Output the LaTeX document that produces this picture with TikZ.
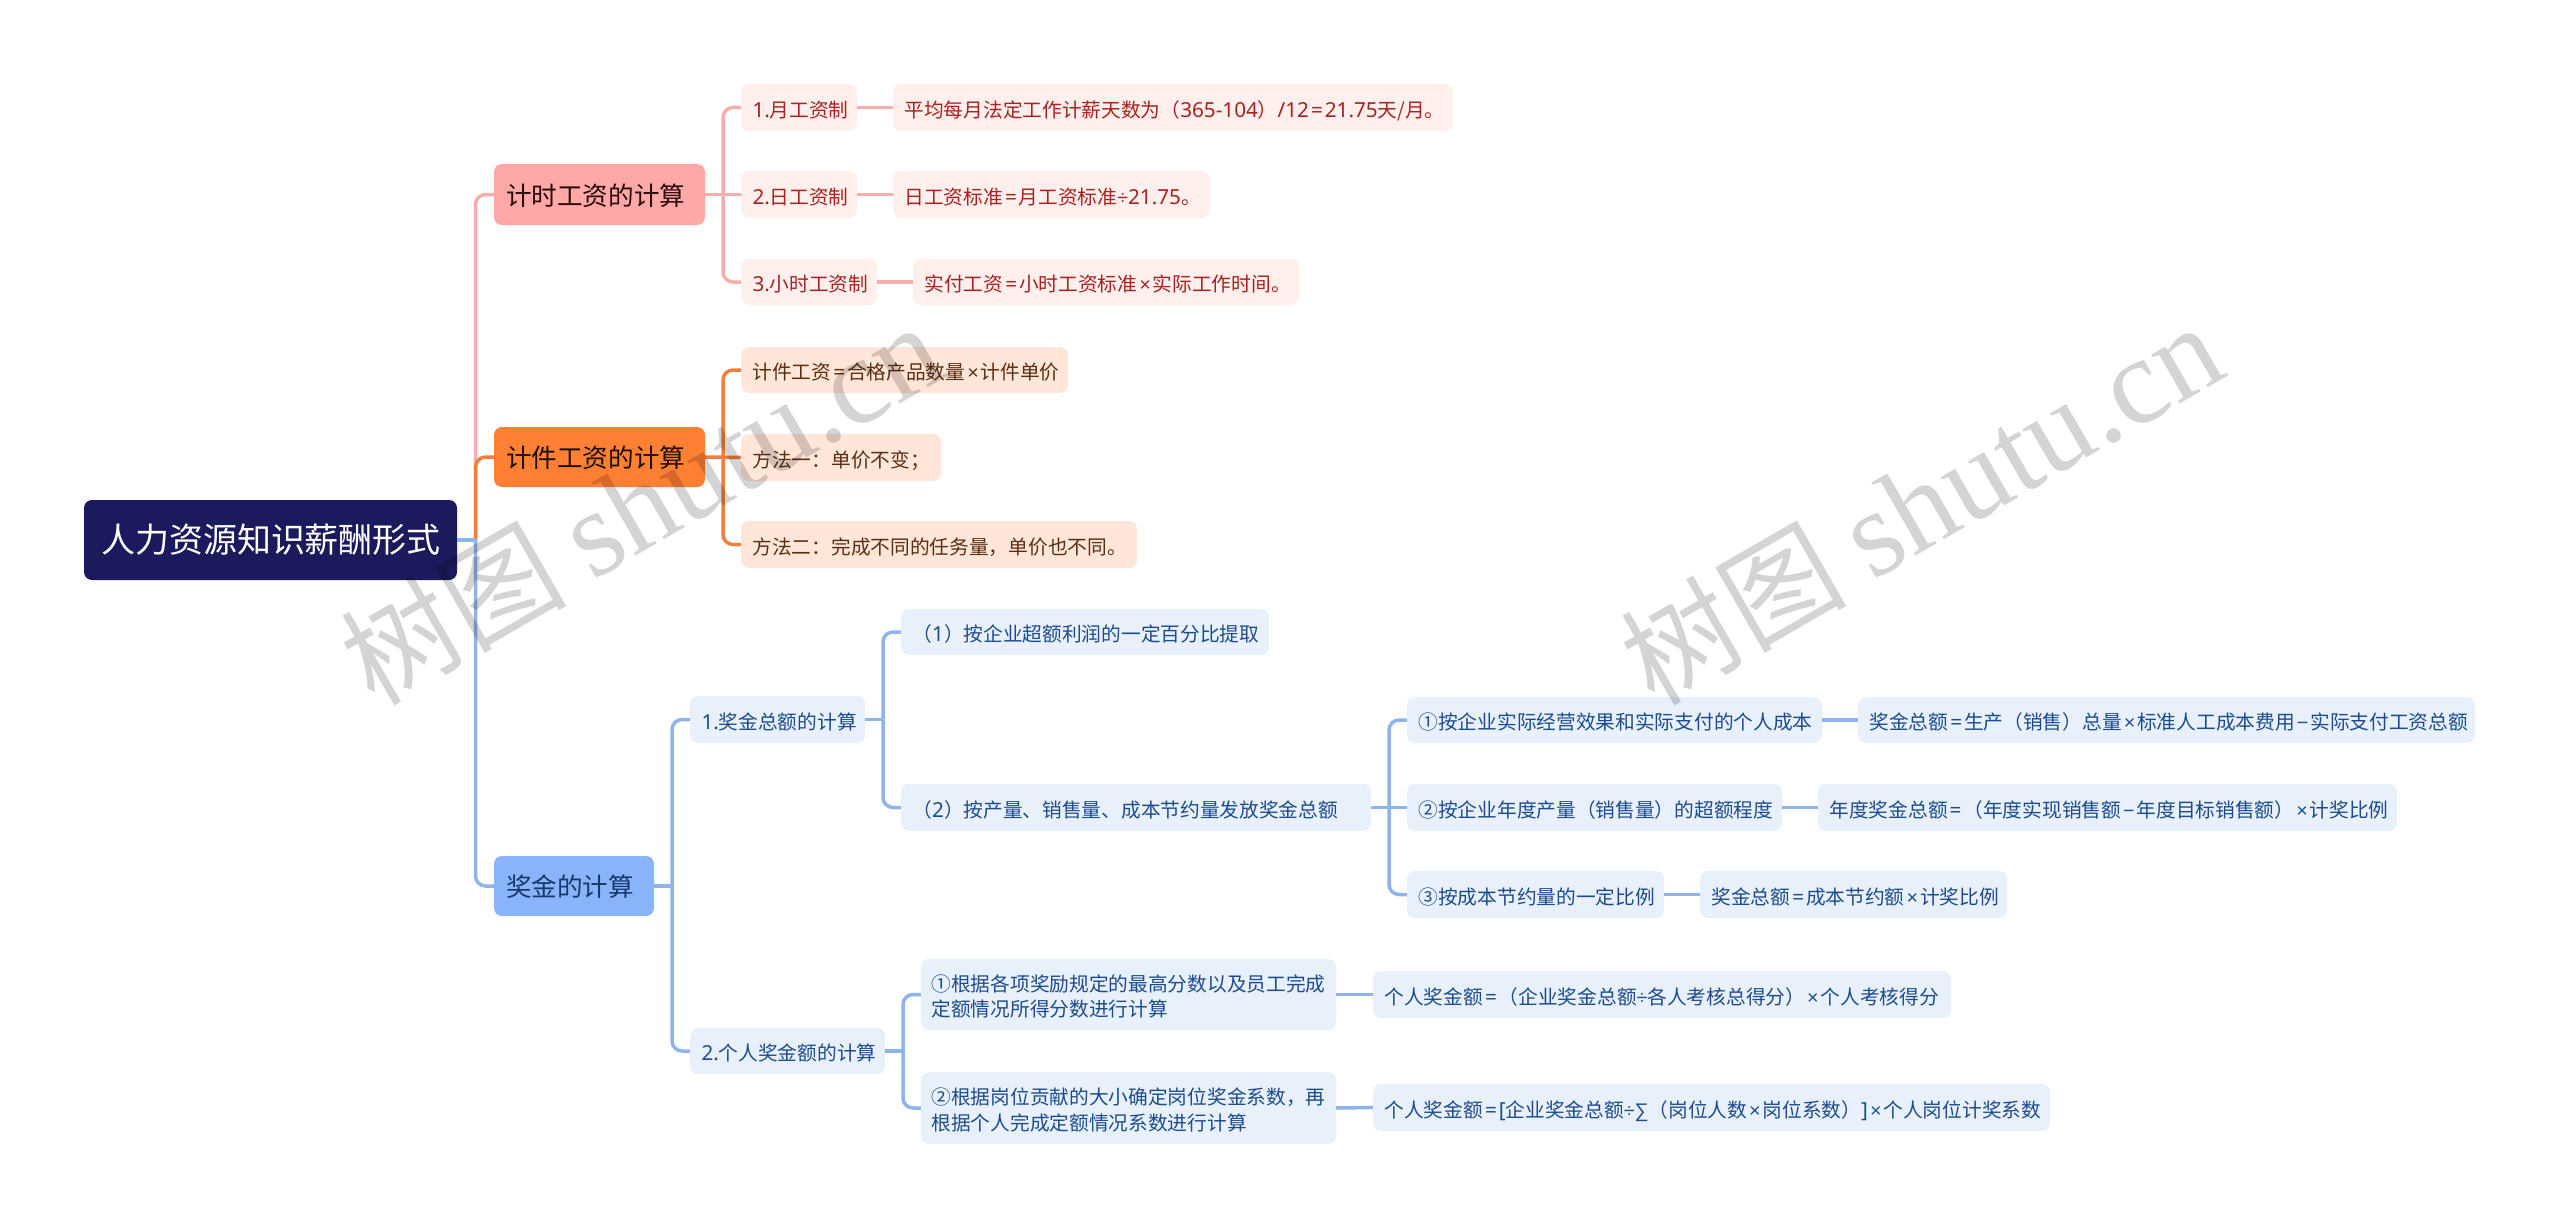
\documentclass[tikz,border=0pt]{standalone}
\usepackage{fontspec}
\setmainfont{Noto Sans CJK SC}
\newfontfamily\wmlatin{Liberation Serif}
\newfontfamily\symf{Liberation Sans}
\newfontfamily\latf[Scale=1.05]{Noto Sans}
\newcommand{\Lt}[1]{{\latf #1}}
\newcommand{\Sy}[1]{{\symf #1}}
\newcommand{\Eq}{\hspace{2pt}{\latf =}\hspace{2pt}}
\newcommand{\Mu}{\hspace{2pt}{\symf ×}\hspace{2pt}}
\newcommand{\Mi}{\hspace{2pt}{\symf −}\hspace{2pt}}
\definecolor{rootc}{HTML}{1B1A5C}
\definecolor{pinkn}{HTML}{FFA8A8}
\definecolor{pinkl}{HTML}{F5AEAC}
\definecolor{pinkf}{HTML}{FFF0EE}
\definecolor{pinkt}{HTML}{A8201F}
\definecolor{orann}{HTML}{FF7F33}
\definecolor{oranl}{HTML}{EE7F3E}
\definecolor{oranf}{HTML}{FFE6D9}
\definecolor{orant}{HTML}{5A2E12}
\definecolor{bluen}{HTML}{8AB4FA}
\definecolor{bluel}{HTML}{8FB4EC}
\definecolor{bluef}{HTML}{E8F0FC}
\definecolor{bluet}{HTML}{1D4C8E}
\tikzset{
  base/.style={rectangle,rounded corners=8pt,inner sep=0pt},
  rootbox/.style={base,fill=rootc,text=white,font=\fontsize{34}{40}\selectfont},
  lone/.style={base,font=\fontsize{25.6}{30}\selectfont},
  ltwo/.style={base,font=\fontsize{19.7}{25.5}\selectfont},
  pinkone/.style={lone,fill=pinkn,text=black!75!pinkt},
  oranone/.style={lone,fill=orann,text=black!70!orant},
  blueone/.style={lone,fill=bluen,text=bluet!75!black},
  pinktwo/.style={ltwo,fill=pinkf,text=pinkt},
  orantwo/.style={ltwo,fill=oranf,text=orant},
  bluetwo/.style={ltwo,fill=bluef,text=bluet},
  link/.style={line width=#1,rounded corners=10pt},
  pinkm/.style={link=3.5pt,draw=pinkl},
  oranm/.style={link=3.5pt,draw=oranl},
  bluem/.style={link=3.5pt,draw=bluel},
  watermark/.style={rotate=30,text=black,text opacity=0.17,inner sep=0pt},
}
\def\pad{11}\def\drop{2.5}
\newcommand{\bx}[7]{%
  \pgfmathsetlengthmacro{\bw}{(#5-#3-\pad)*1pt}%
  \pgfmathsetlengthmacro{\bd}{(\drop)*1pt}%
  \node[#2,minimum width={(#5-#3)*1pt},minimum height={(#6-#4)*1pt}] (#1) at ({(#3+#5)/2},{(#4+#6)/2})
  {\hspace*{\pad pt}\makebox[\bw][l]{\raisebox{\dimexpr-.38em-\bd\relax}[0pt][0pt]{#7}}};}
\newcommand{\twolines}[2]{\parbox[t]{440pt}{#1\\#2}}
\begin{document}
\begin{tikzpicture}[x=1pt,y=-1pt]
\useasboundingbox (0,0) rectangle (2560,1228);
\fill[white] (0,0) rectangle (2560,1228);
% nodes
\def\pad{17}\def\drop{0}
\bx{root}{rootbox}{84}{500}{457}{580}{人力资源知识薪酬形式}
\def\pad{12}\def\drop{1}
\bx{a}{pinkone}{494}{164}{705}{225}{计时工资的计算}
\bx{b}{oranone}{494}{427}{705}{487}{计件工资的计算}
\bx{c}{blueone}{494}{856}{654}{916}{奖金的计算}
\def\pad{11.5}\def\drop{2.5}
\bx{a1}{pinktwo}{741}{84}{857}{131}{\Lt{1.}月工资制}
\bx{a2}{pinktwo}{741}{171}{857}{218}{\Lt{2.}日工资制}
\bx{a3}{pinktwo}{741}{259}{877}{305}{\Lt{3.}小时工资制}
\bx{a1x}{pinktwo}{893}{84}{1453}{131}{平均每月法定工作计薪天数为（\Lt{365-104}）\Lt{/12}\Eq\Lt{21.75}天/月。}
\bx{a2x}{pinktwo}{893}{171}{1210}{218}{日工资标准\Eq 月工资标准\Sy{÷}\Lt{21.75}。}
\bx{a3x}{pinktwo}{913}{259}{1299}{305}{实付工资\Eq 小时工资标准\Mu 实际工作时间。}
\bx{b1}{orantwo}{741}{347}{1068}{393}{计件工资\Eq 合格产品数量\Mu 计件单价}
\bx{b2}{orantwo}{741}{434}{941}{481}{方法一：单价不变；}
\bx{b3}{orantwo}{741}{521}{1137}{568}{方法二：完成不同的任务量，单价也不同。}
\bx{c1}{bluetwo}{690}{696}{865}{743}{\Lt{1.}奖金总额的计算}
\bx{c2}{bluetwo}{690}{1028}{885}{1074}{\Lt{2.}个人奖金额的计算}
\bx{c11}{bluetwo}{901}{609}{1269}{655}{（\Lt{1}）按企业超额利润的一定百分比提取}
\bx{c12}{bluetwo}{901}{784}{1371}{831}{（\Lt{2}）按产量、销售量、成本节约量发放奖金总额}
\bx{d1}{bluetwo}{1407}{697}{1822}{743}{①按企业实际经营效果和实际支付的个人成本}
\bx{d2}{bluetwo}{1407}{784}{1782}{831}{②按企业年度产量（销售量）的超额程度}
\bx{d3}{bluetwo}{1407}{871}{1664}{918}{③按成本节约量的一定比例}
\bx{e1}{bluetwo}{1858}{697}{2475}{743}{奖金总额\Eq 生产（销售）总量\Mu 标准人工成本费用\Mi 实际支付工资总额}
\bx{e2}{bluetwo}{1818}{784}{2397}{831}{年度奖金总额\Eq（年度实现销售额\Mi 年度目标销售额）\Mu 计奖比例}
\bx{e3}{bluetwo}{1700}{871}{2007}{918}{奖金总额\Eq 成本节约额\Mu 计奖比例}
\bx{g1}{bluetwo}{1373}{971}{1951}{1018}{个人奖金额\Eq（企业奖金总额\Sy{÷}各人考核总得分）\Mu 个人考核得分}
\bx{g2}{bluetwo}{1373}{1084}{2050}{1131}{个人奖金额\Eq\Lt{[}企业奖金总额\Sy{÷∑}（岗位人数\Mu 岗位系数）\Lt{]}\Mu 个人岗位计奖系数}
\def\pad{10.5}\def\drop{-10.5}
\bx{f1}{bluetwo}{921}{959}{1336}{1030}{\twolines{①根据各项奖励规定的最高分数以及员工完成}{定额情况所得分数进行计算}}
\bx{f2}{bluetwo}{921}{1072}{1336}{1144}{\twolines{②根据岗位贡献的大小确定岗位奖金系数，再}{根据个人完成定额情况系数进行计算}}
% bends
\coordinate (tr) at (475.5,0);
\coordinate (va) at (723,0);
\coordinate (vc) at (672,0);
\coordinate (vc1) at (883,0);
\coordinate (vc2) at (903,0);
\coordinate (vd) at (1389,0);
% connectors
\draw[pinkm] (root.east -| tr) |- (a.west);
\draw[oranm] (root.east -| tr) |- (b.west);
\draw[bluem] (root.east -| tr) |- (c.west);
\draw[bluem] (root.east) -- (root.east -| tr);
\draw[pinkm] (a.east -| va) |- (a1.west);
\draw[pinkm] (a.east) -- (a2.west);
\draw[pinkm] (a.east -| va) |- (a3.west);
\draw[pinkm] (a1.east) -- (a1x.west);
\draw[pinkm] (a2.east) -- (a2x.west);
\draw[pinkm] (a3.east) -- (a3x.west);
\draw[oranm] (b.east -| va) |- (b1.west);
\draw[oranm] (b.east) -- (b2.west);
\draw[oranm] (b.east -| va) |- (b3.west);
\draw[bluem] (c.east) -- (c.east -| vc);
\draw[bluem] (c.east -| vc) |- (c1.west);
\draw[bluem] (c.east -| vc) |- (c2.west);
\draw[bluem] (c1.east) -- (c1.east -| vc1);
\draw[bluem] (c1.east -| vc1) |- (c11.west);
\draw[bluem] (c1.east -| vc1) |- (c12.west);
\draw[bluem] (c12.east -| vd) |- (d1.west);
\draw[bluem] (c12.east) -- (d2.west);
\draw[bluem] (c12.east -| vd) |- (d3.west);
\draw[bluem] (d1.east) -- (e1.west);
\draw[bluem] (d2.east) -- (e2.west);
\draw[bluem] (d3.east) -- (e3.west);
\draw[bluem] (c2.east) -- (c2.east -| vc2);
\draw[bluem] (c2.east -| vc2) |- (f1.west);
\draw[bluem] (c2.east -| vc2) |- (f2.west);
\draw[bluem] (f1.east) -- (g1.west);
\draw[bluem] (f2.east) -- (g2.west);
% watermark
\node[watermark] (w1) at (641,504) {\fontsize{113}{130}\selectfont 树图 {\wmlatin\fontsize{123}{130}\selectfont shutu.cn}};
\node[watermark] (w2) at (1921,504) {\fontsize{113}{130}\selectfont 树图 {\wmlatin\fontsize{123}{130}\selectfont shutu.cn}};
\end{tikzpicture}
\end{document}
